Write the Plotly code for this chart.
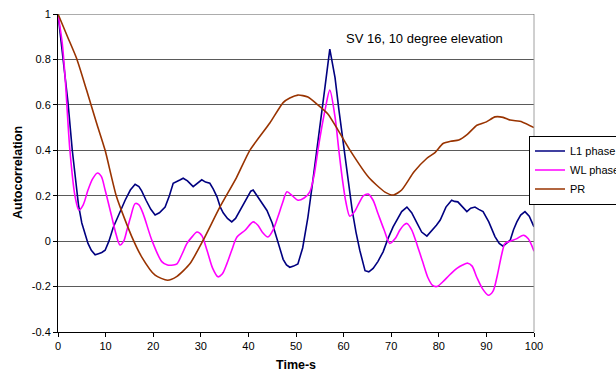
import plotly.graph_objects as go

# ---- data ----
pr_x = [0, 2, 3.9, 6, 8.1, 9.9, 12.3, 15.5, 17.6, 20.4, 23, 25, 27.7, 30.5, 34, 37.5, 40.3,
        44.5, 47.3, 48.7, 50.4, 52.5, 54.6, 56.7, 58.8, 61.5, 65.3, 68.7, 70.5, 72.2, 74.8,
        77.5, 79.2, 80.9, 82.5, 84.2, 86, 88, 90, 91.8, 93.5, 95, 97.5, 100]
pr_y = [1.0, 0.90, 0.805, 0.665, 0.52, 0.40, 0.195, 0.02, -0.07, -0.15, -0.172, -0.155, -0.10,
        0.004, 0.15, 0.28, 0.40, 0.52, 0.61, 0.63, 0.643, 0.635, 0.60, 0.56, 0.49, 0.395, 0.28,
        0.216, 0.203, 0.225, 0.305, 0.365, 0.39, 0.43, 0.44, 0.445, 0.47, 0.51, 0.525, 0.547,
        0.545, 0.533, 0.525, 0.50]

l1_x = [0, 1, 2.1, 3, 3.6, 4.3, 5, 5.7, 6.3, 7, 7.8, 8.5, 9.2, 9.9, 10.7, 11.6, 12.8, 14.1,
        15.2, 16.2, 17, 17.6, 18.5, 19.5, 20.4, 21.3, 22.5, 23.4, 24.2, 25, 25.7, 26.3, 27.2,
        28.4, 29.3, 30.2, 31, 31.9, 32.6, 33.4, 34.1, 34.7, 35.6, 36.5, 37.3, 38.2, 39.5, 40.5,
        41, 41.8, 42.8, 43.9, 45, 46, 47.3, 48, 48.7, 49.5, 50.4, 51.4, 52.5, 53.5, 54.6, 55.4,
        56.1, 57.1, 58.2, 59, 59.9, 60.8, 61.8, 62.6, 63.4, 64.5, 65.3, 66.2, 67.2, 68.3, 69.3,
        70.4, 71.2, 72.2, 73.3, 74.3, 75.4, 76.4, 77.5, 78.5, 79.5, 80.3, 81.5, 82.7, 83.3, 84,
        85, 85.9, 86.7, 87.6, 88.4, 89.3, 90.5, 91.8, 92.7, 93.5, 94.2, 95, 95.7, 96.4, 97.2,
        98.1, 99, 100]
l1_y = [1.0, 0.81, 0.61, 0.40, 0.28, 0.16, 0.08, 0.03, -0.01, -0.04, -0.06, -0.055, -0.05,
        -0.04, 0.0, 0.06, 0.12, 0.18, 0.225, 0.25, 0.24, 0.22, 0.18, 0.14, 0.115, 0.125, 0.15,
        0.2, 0.255, 0.265, 0.27, 0.277, 0.265, 0.24, 0.255, 0.27, 0.26, 0.255, 0.23, 0.195,
        0.15, 0.125, 0.1, 0.085, 0.1, 0.135, 0.18, 0.22, 0.225, 0.2, 0.17, 0.135, 0.08, 0.01,
        -0.08, -0.105, -0.115, -0.11, -0.10, -0.03, 0.105, 0.26, 0.43, 0.56, 0.68, 0.845, 0.72,
        0.58, 0.43, 0.28, 0.137, 0.04, -0.04, -0.13, -0.135, -0.12, -0.09, -0.047, 0.01, 0.063,
        0.095, 0.13, 0.15, 0.125, 0.08, 0.04, 0.022, 0.045, 0.07, 0.093, 0.15, 0.18, 0.175,
        0.173, 0.15, 0.13, 0.145, 0.15, 0.14, 0.13, 0.085, 0.02, -0.01, -0.022, -0.01, 0.004,
        0.05, 0.085, 0.115, 0.13, 0.11, 0.063]

wl_x = [0, 0.9, 1.5, 2.5, 3.6, 4.4, 5.3, 6.3, 7.3, 8.3, 9.1, 9.9, 11.3, 12.2, 13, 13.8, 14.5,
        15.3, 16.2, 17, 17.9, 19.7, 21.8, 23, 24.2, 25, 26, 27.1, 28.2, 29.2, 30.2, 31.3, 32.5,
        33.6, 34.5, 35.5, 36.5, 37.6, 39.3, 41, 42, 42.9, 44.1, 45.2, 46.2, 47.2, 48.1, 49.2,
        50.4, 51.7, 52.9, 53.8, 54.6, 55.4, 56.1, 57.1, 58.2, 59, 59.7, 60.5, 61.3, 62.3, 63.3,
        64.2, 65.2, 66.2, 67.2, 68.5, 69.7, 70.8, 71.8, 72.6, 73.3, 74.3, 75.5, 76.6, 77.7,
        78.7, 79.6, 80.8, 82.2, 83.8, 85, 86.1, 87, 88, 89.2, 90.4, 91.4, 92.3, 93.2, 93.9, 95,
        96.3, 97.8, 98.8, 100]
wl_y = [1.0, 0.87, 0.72, 0.40, 0.195, 0.137, 0.16, 0.225, 0.275, 0.30, 0.285, 0.225, 0.107,
        0.03, -0.017, 0.0, 0.05, 0.11, 0.165, 0.16, 0.12, 0.005, -0.09, -0.105, -0.105, -0.10,
        -0.06, -0.01, 0.02, 0.04, 0.025, -0.04, -0.12, -0.157, -0.145, -0.098, -0.04, 0.018,
        0.048, 0.085, 0.07, 0.04, 0.018, 0.05, 0.107, 0.17, 0.217, 0.20, 0.18, 0.19, 0.217,
        0.29, 0.40, 0.50, 0.577, 0.665, 0.547, 0.40, 0.28, 0.17, 0.11, 0.13, 0.17, 0.2, 0.207,
        0.18, 0.123, 0.05, -0.01, 0.01, 0.048, 0.07, 0.078, 0.05, -0.02, -0.09, -0.16, -0.195,
        -0.2, -0.18, -0.15, -0.12, -0.105, -0.097, -0.11, -0.16, -0.21, -0.238, -0.22, -0.15,
        -0.06, -0.01, 0.0, 0.01, 0.026, 0.01, -0.044]

x_ticks = [0, 10, 20, 30, 40, 50, 60, 70, 80, 90, 100]
y_ticks = [-0.4, -0.2, 0, 0.2, 0.4, 0.6, 0.8, 1]
y_tick_text = ["-0.4", "-0.2", "0", "0.2", "0.4", "0.6", "0.8", "1"]

FONT = "Liberation Sans, Arial, sans-serif"

fig = go.Figure()
fig.add_trace(go.Scatter(x=l1_x, y=l1_y, mode="lines", name="L1 phase",
                         line=dict(color="#000080", width=1.6)))
fig.add_trace(go.Scatter(x=wl_x, y=wl_y, mode="lines", name="WL phase",
                         line=dict(color="#FF00FF", width=1.6, shape="spline", smoothing=0.8)))
fig.add_trace(go.Scatter(x=pr_x, y=pr_y, mode="lines", name="PR",
                         line=dict(color="#993300", width=1.6, shape="spline", smoothing=0.6)))

fig.update_layout(
    width=616, height=371,
    margin=dict(l=58, r=82, t=14, b=39, autoexpand=False),
    paper_bgcolor="white", plot_bgcolor="white",
    font=dict(family=FONT, size=11, color="black"),
    showlegend=True,
    legend=dict(xref="container", yref="container", x=529 / 616, y=1 - 170 / 371,
                xanchor="left", yanchor="middle",
                bordercolor="black", borderwidth=1, bgcolor="white",
                font=dict(family=FONT, size=11), itemwidth=30,
                tracegroupgap=0),
    xaxis=dict(range=[0, 100], tickvals=x_ticks, ticks="outside", ticklen=4,
               tickcolor="black", showline=True, linecolor="black", linewidth=1,
               showgrid=False, zeroline=False, tickfont=dict(size=11)),
    yaxis=dict(range=[-0.4, 1], tickvals=y_ticks, ticktext=y_tick_text, ticks="outside",
               ticklen=4, tickcolor="black", showline=True, linecolor="black", linewidth=1,
               showgrid=True, gridcolor="#5a5a5a", gridwidth=1, zeroline=False,
               tickfont=dict(size=11)),
    annotations=[
        dict(text="SV 16, 10 degree elevation", x=76.9, y=0.89, xref="x", yref="y",
             showarrow=False, font=dict(size=13, family=FONT), xanchor="center", yanchor="middle"),
        dict(text="<b>Time-s</b>", x=0.5, y=-0.105, xref="paper", yref="paper",
             showarrow=False, font=dict(size=12.5, family=FONT), xanchor="center", yanchor="middle"),
        dict(text="<b>Autocorrelation</b>", x=-0.084, y=0.5, xref="paper", yref="paper",
             showarrow=False, textangle=-90, font=dict(size=12.5, family=FONT),
             xanchor="center", yanchor="middle"),
    ],
    shapes=[
        dict(type="line", xref="paper", yref="paper", x0=1, x1=1, y0=0, y1=1,
             line=dict(color="#a0a0a0", width=1)),
        dict(type="line", xref="paper", yref="y", x0=0, x1=1, y0=1, y1=1,
             line=dict(color="#5a5a5a", width=1)),
    ],
)

fig.write_html("out.html")
